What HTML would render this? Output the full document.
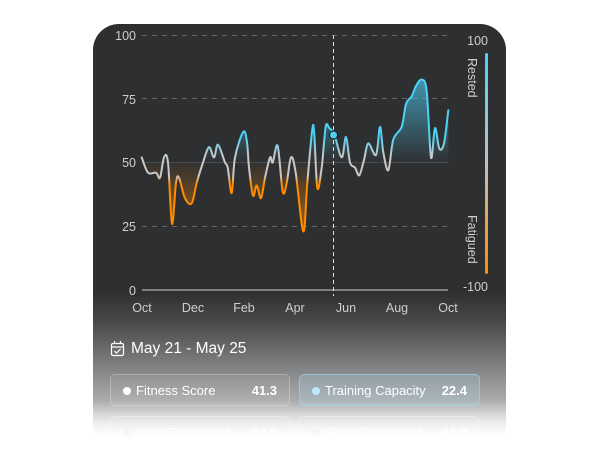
<!DOCTYPE html>
<html><head><meta charset="utf-8"><style>
html,body{margin:0;padding:0;width:600px;height:450px;background:#fff;overflow:hidden;font-family:"Liberation Sans",sans-serif}
.card{position:absolute;left:93px;top:24px;width:413px;height:440px;border-radius:26px;
background:linear-gradient(to bottom,#2e2f31 0px,#2e2f31 268px,#4a4b4c 300px,#7d7e7f 340px,#b4b5b6 385px,#e6e6e6 410px,#fff 425px)}
svg{position:absolute;left:0;top:0}
.date{position:absolute;left:131px;top:340px;color:#fff;font-size:15.5px}
.btn{position:absolute;height:32px;border-radius:5px;box-sizing:border-box;color:#fff;font-size:13px;line-height:31px}
.btn .v{position:absolute;right:12px;top:0;font-weight:bold}
.btn .dot{display:inline-block;width:8px;height:8px;border-radius:50%;margin:0 5px 0 12px;vertical-align:0px}
.fade{position:absolute;left:0;top:400px;width:600px;height:50px;background:linear-gradient(to bottom,rgba(255,255,255,0),#fff 38px)}
</style></head><body>
<div class="card"></div>
<svg width="600" height="450" viewBox="0 0 600 450">
<defs>
<linearGradient id="ln" gradientUnits="userSpaceOnUse" x1="0" y1="120" x2="0" y2="200">
<stop offset="0" stop-color="#4cd2f5"/><stop offset="0.2" stop-color="#4cd2f5"/>
<stop offset="0.45" stop-color="#c8c8c8"/><stop offset="0.7" stop-color="#c8c8c8"/>
<stop offset="0.8" stop-color="#ff8c00"/><stop offset="1" stop-color="#ff8c00"/></linearGradient>
<linearGradient id="fl" gradientUnits="userSpaceOnUse" x1="0" y1="80" x2="0" y2="232">
<stop offset="0" stop-color="#4cc8ee" stop-opacity="0.65"/>
<stop offset="0.54" stop-color="#4cc8ee" stop-opacity="0.02"/>
<stop offset="0.54" stop-color="#ff8c00" stop-opacity="0.02"/>
<stop offset="1" stop-color="#ff8c00" stop-opacity="0.55"/></linearGradient>
<linearGradient id="bar" x1="0" y1="0" x2="0" y2="1">
<stop offset="0" stop-color="#4cd2f5"/><stop offset="0.5" stop-color="#c0c0c0"/><stop offset="1" stop-color="#ff8c00"/></linearGradient>
</defs>
<g stroke="#666" stroke-width="1" stroke-dasharray="5,5">
<line x1="142" y1="35.5" x2="448" y2="35.5"/><line x1="142" y1="98.5" x2="448" y2="98.5"/><line x1="142" y1="226.5" x2="448" y2="226.5"/></g>
<line x1="142" y1="162.5" x2="448" y2="162.5" stroke="#4a4b4d"/>
<line x1="142" y1="290" x2="448" y2="290" stroke="#9a9a9a" stroke-width="1.5"/>
<g fill="#cfcfcf" font-size="12.5" text-anchor="end">
<text x="136" y="40">100</text><text x="136" y="104">75</text><text x="136" y="167">50</text><text x="136" y="231">25</text><text x="136" y="295">0</text></g>
<g fill="#cfcfcf" font-size="12.5" text-anchor="middle">
<text x="142" y="312">Oct</text><text x="193" y="312">Dec</text><text x="244" y="312">Feb</text><text x="295" y="312">Apr</text><text x="346" y="312">Jun</text><text x="397" y="312">Aug</text><text x="448" y="312">Oct</text></g>
<path id="area" fill="url(#fl)" d=""/>
<path id="line" fill="none" stroke="url(#ln)" stroke-width="2" stroke-linejoin="round" stroke-linecap="round" d=""/>
<line x1="333.5" y1="35" x2="333.5" y2="296" stroke="#ddd" stroke-width="1" stroke-dasharray="4,3"/>
<circle cx="333.5" cy="135" r="4" fill="#4fd0f0" stroke="#1a1a1a" stroke-width="1"/>
<rect x="485" y="53" width="3" height="221" rx="1.5" fill="url(#bar)"/>
<text x="488" y="45" fill="#cfcfcf" font-size="12.5" text-anchor="end">100</text>
<text x="488" y="291" fill="#cfcfcf" font-size="12.5" text-anchor="end">-100</text>
<text transform="translate(468,58) rotate(90)" fill="#cfcfcf" font-size="12.5">Rested</text>
<text transform="translate(468,215) rotate(90)" fill="#cfcfcf" font-size="12.5">Fatigued</text>
<g stroke="#fff" stroke-width="1.2" fill="none">
<rect x="111.5" y="343.5" width="12" height="12" rx="1.5"/><line x1="111.5" y1="347" x2="123.5" y2="347"/>
<line x1="114.5" y1="341" x2="114.5" y2="344"/><line x1="120.5" y1="341" x2="120.5" y2="344"/>
<polyline points="114.5,351 116.5,353 120.5,349"/></g>
</svg>
<div class="date">May 21 - May 25</div>
<div class="btn" style="left:110px;top:374px;width:180px;background:rgba(255,255,255,0.06);border:1px solid rgba(255,255,255,0.25)"><span class="dot" style="background:#fff"></span>Fitness Score<span class="v">41.3</span></div>
<div class="btn" style="left:299px;top:374px;width:181px;background:rgba(170,215,235,0.25);border:1px solid rgba(150,210,235,0.7)"><span class="dot" style="background:#bdeaf8"></span>Training Capacity<span class="v">22.4</span></div>
<div class="btn" style="left:110px;top:416px;width:180px;border:1px solid rgba(255,255,255,0.3)"><span class="dot" style="background:#9fe0a0"></span>Long Term Load<span class="v">83.6</span></div>
<div class="btn" style="left:299px;top:416px;width:181px;border:1px solid rgba(255,255,255,0.3)"><span class="dot" style="background:#e0b0d0"></span>Short Term Load<span class="v">64.9</span></div>
<div class="fade"></div>
<script>
var s="141.7,157.4 148,172.7 156,172.7 160,177.8 164,157.4 168,162.5 172,223.7 176,182.9 179,177.8 185,198.2 191.7,203.3 196.7,182.9 203,162.5 209,147.2 214,157.4 218,144.7 225,162.5 227.7,167.6 231.7,193.1 235,157.4 243.3,131.9 247,142.1 249,167.6 253,195.6 256.7,185.5 261,198.2 265,177.8 270,157.4 272.7,162.5 277.7,145.9 282.7,191.8 286.7,182.9 291,157.4 295.7,172.7 303.3,231.4 307.3,182.9 312.3,129.4 314.3,134.5 317.3,188 321.7,167.6 325.7,126.8 329.3,128.1 334.3,134.5 341.7,157.4 346,137 350,162.5 355,167.6 359.3,175.3 364,160 368.3,143.4 376,154.9 380,126.8 383.3,152.3 388.3,170.2 393.3,139.6 401.7,126.8 406,103.9 411.7,96.2 416,86 421.7,79.6 426.7,91.1 431,157.4 435,128.1 439.3,148.5 444,143.4 448.3,110.2";
var p=s.split(" ").map(function(a){return a.split(",").map(Number)});
var d="M"+p[0][0]+","+p[0][1];
for(var i=0;i<p.length-1;i++){var p0=p[Math.max(0,i-1)],p1=p[i],p2=p[i+1],p3=p[Math.min(p.length-1,i+2)];
var t=0.5/3;
d+=" C"+(p1[0]+(p2[0]-p0[0])*t).toFixed(2)+","+(p1[1]+(p2[1]-p0[1])*t).toFixed(2)+" "+(p2[0]-(p3[0]-p1[0])*t).toFixed(2)+","+(p2[1]-(p3[1]-p1[1])*t).toFixed(2)+" "+p2[0]+","+p2[1];}
document.getElementById("line").setAttribute("d",d);
document.getElementById("area").setAttribute("d","M141.7,162.5 L"+d.slice(1)+" L448.3,162.5 Z");
</script>
</body></html>
